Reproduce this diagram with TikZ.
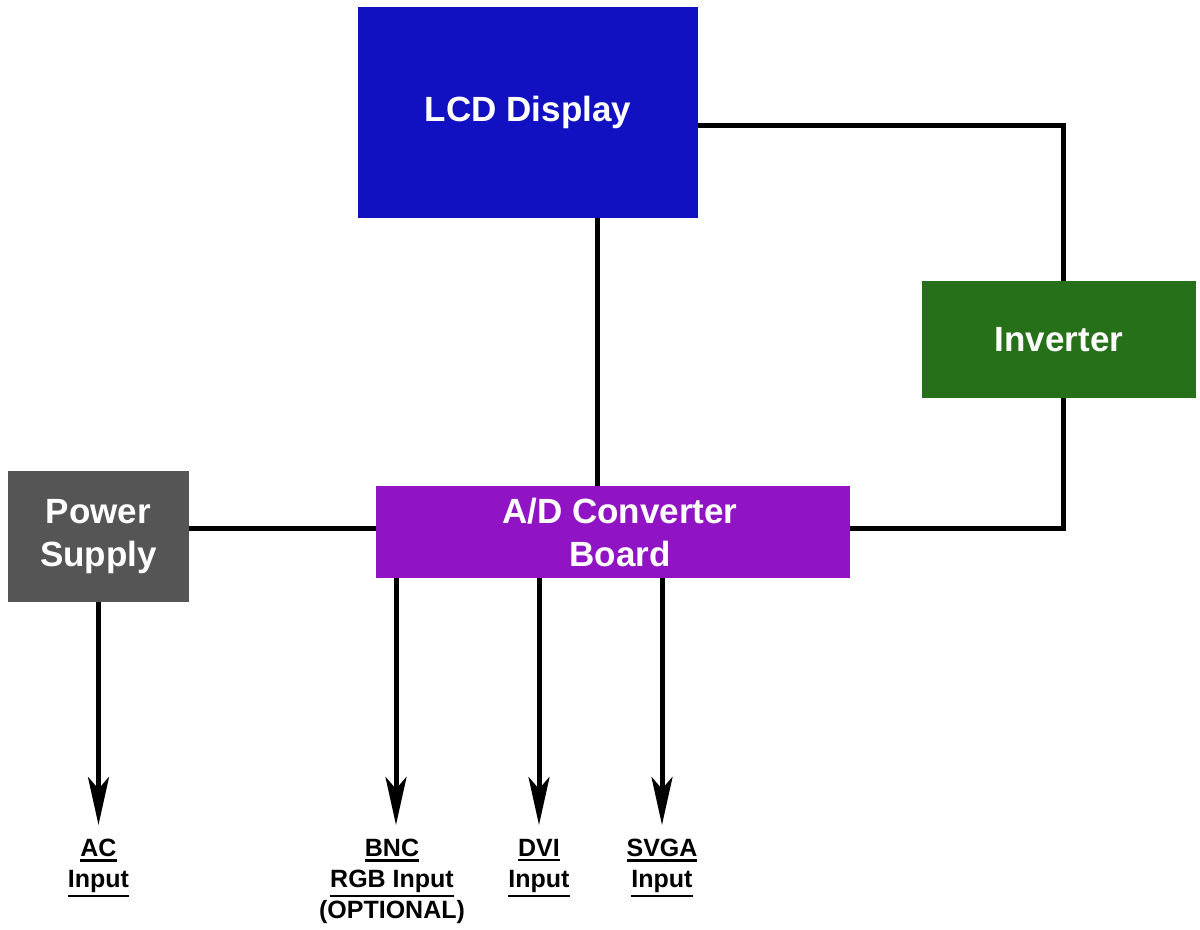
\documentclass[tikz,border=0pt]{standalone}
\usepackage{fontspec}
\setmainfont{Liberation Sans}
\usetikzlibrary{arrows.meta}
\definecolor{lcdblue}{RGB}{17,17,194}
\definecolor{invgreen}{RGB}{38,112,26}
\definecolor{psgray}{RGB}{85,85,85}
\definecolor{adpurple}{RGB}{144,20,196}
\newcommand\thickul[1]{\setbox0\hbox{#1}\leavevmode\rlap{\rule[-\dimexpr\dp0+2.2pt\relax]{\wd0}{1.1pt}}\box0}
\begin{document}
\begin{tikzpicture}[x=0.5pt,y=-0.5pt,
  block/.style={draw=none, text=white, inner sep=0pt, align=center,
    font=\bfseries\fontsize{17.5}{21.5}\selectfont},
  wire/.style={line width=2.5pt, black},
  feed/.style={wire, -{Stealth[length=24pt,width=10.5pt,inset=6pt]}},
  lbl/.style={anchor=north, inner xsep=0pt, inner ysep=7pt, align=center,
    font=\bfseries\fontsize{12.5}{15.5}\selectfont}]
\useasboundingbox (0,0) rectangle (1200,930);

\node[block, fill=lcdblue, minimum width=170pt, minimum height=105.5pt] (lcd) at (528,112.5) {LCD Display};
\node[block, fill=invgreen, minimum width=137pt, minimum height=58.5pt] (inv) at (1059,339.5) {Inverter};
\node[block, fill=psgray, minimum width=90.5pt, minimum height=65.5pt] (ps) at (98.5,536.5) {Power\\Supply};
\node[block, fill=adpurple, minimum width=237pt, minimum height=46pt] (ad) at (613,532) {\hspace*{7pt}A/D Converter\\\hspace*{7pt}Board};

\node[lbl] (ac) at (98.5,825) {\thickul{AC}\\\thickul{Input}};
\node[lbl] (bnc) at (392,825) {\thickul{BNC}\\\thickul{RGB Input}\\(OPTIONAL)};
\node[lbl] (dvi) at (539,825) {\thickul{DVI}\\\thickul{Input}};
\node[lbl] (svga) at (662,825) {\thickul{SVGA}\\\thickul{Input}};

\draw[wire] ([yshift=-6.75pt]lcd.east) -| ([xshift=2pt]inv.north);
\draw[wire] ([xshift=2pt]inv.south) |- ([yshift=1.5pt]ad.east);
\draw[wire] ([xshift=34.5pt]lcd.south) -- ([xshift=34.5pt]lcd.south |- ad.north);
\draw[wire] ([yshift=1.5pt]ad.west -| ps.east) -- ([yshift=1.5pt]ad.west);

\draw[feed] (ps.south) -- (ac.north);
\draw[feed] ([xshift=2pt]ad.south -| bnc.north) -- ([xshift=2pt]bnc.north);
\draw[feed] (ad.south -| dvi.north) -- (dvi.north);
\draw[feed] (ad.south -| svga.north) -- (svga.north);
\end{tikzpicture}
\end{document}
